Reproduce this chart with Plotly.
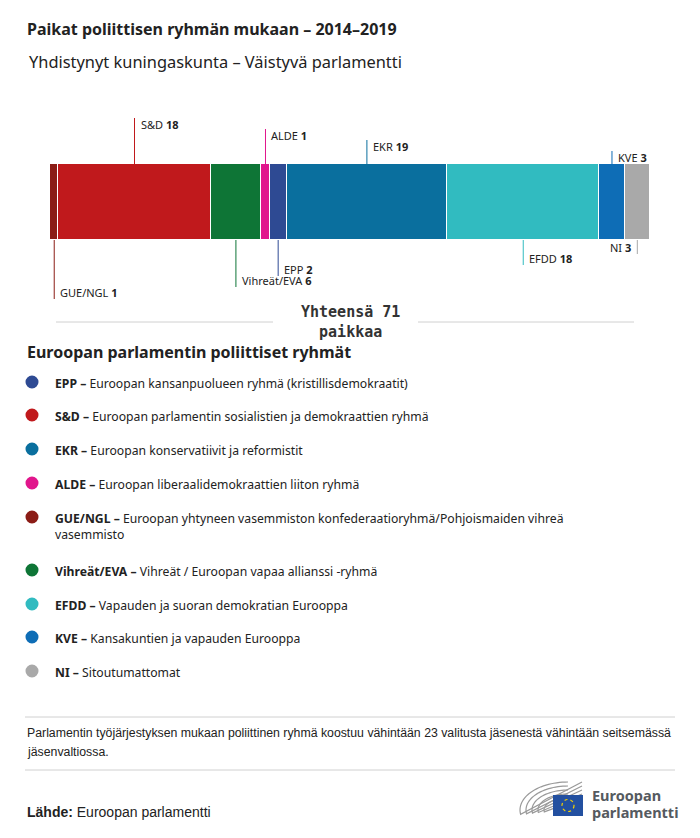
import numpy as np
import plotly.graph_objects as go

# ---------------- data ----------------
groups = ["GUE/NGL", "S&D", "Vihreät/EVA", "ALDE", "EPP", "EKR", "EFDD", "KVE", "NI"]
seats = [1, 18, 6, 1, 2, 19, 18, 3, 3]
colors = ["#8b1c16", "#c0191c", "#0e7536", "#e1168c", "#2e4a93",
          "#0a6f9e", "#31bbc0", "#0e6db6", "#a9a9a9"]
# callout placement (style only)
label_side = ["below", "above", "below", "above", "below", "above", "below", "above", "below_left"]
label_y = [292, 124, 280, 135, 269, 146, 258, 157, 247]

legend_groups = ["EPP", "S&D", "EKR", "ALDE", "GUE/NGL", "Vihreät/EVA", "EFDD", "KVE", "NI"]
legend_desc = [
    "Euroopan kansanpuolueen ryhmä (kristillisdemokraatit)",
    "Euroopan parlamentin sosialistien ja demokraattien ryhmä",
    "Euroopan konservatiivit ja reformistit",
    "Euroopan liberaalidemokraattien liiton ryhmä",
    "Euroopan yhtyneen vasemmiston konfederaatioryhmä/Pohjoismaiden vihreä<br>vasemmisto",
    "Vihreät / Euroopan vapaa allianssi -ryhmä",
    "Vapauden ja suoran demokratian Eurooppa",
    "Kansakuntien ja vapauden Eurooppa",
    "Sitoutumattomat",
]
legend_row_y = [382, 415, 449, 483, 517, 570, 604, 637, 671]

title = "Paikat poliittisen ryhmän mukaan – 2014–2019"
subtitle = "Yhdistynyt kuningaskunta – Väistyvä parlamentti"
legend_title = "Euroopan parlamentin poliittiset ryhmät"
note_lines = ["Parlamentin työjärjestyksen mukaan poliittinen ryhmä koostuu vähintään 23 valitusta "
              "jäsenestä vähintään seitsemässä", "jäsenvaltiossa."]
source = "Euroopan parlamentti"

# ---------------- layout helpers ----------------
VW, VH = 700, 838          # browser window
OFF = 8                    # default page margin of the html body
W, H = VW - OFF, VH - OFF  # figure size
FONT = "Noto Sans"
TXT = "#222222"
BAR_Y, BAR_H = 202, 76


def px(x):
    """window pixel -> paper fraction"""
    return (x - OFF) / W


def esc(s):
    return s.replace("&", "&amp;")


color_of = dict(zip(groups, colors))
total = sum(seats)
cum = np.concatenate([[0], np.cumsum(seats)])
mids = (cum[:-1] + cum[1:]) / 2

fig = go.Figure()

# stacked bar
for g, n, c in zip(groups, seats, colors):
    fig.add_trace(go.Bar(
        x=[n], y=[BAR_Y], width=[BAR_H], orientation="h",
        marker=dict(color=c, line=dict(color="white", width=1.2)),
        name=g, hoverinfo="skip", showlegend=False,
    ))

annotations = []
shapes = []

# callouts
top, bottom = BAR_Y - BAR_H / 2, BAR_Y + BAR_H / 2
for g, n, c, m, side, ly in zip(groups, seats, colors, mids, label_side, label_y):
    if side == "above":
        ys = [top, ly - 6]
        xanchor, xshift = "left", 4
    elif side == "below":
        ys = [bottom, ly + 7]
        xanchor, xshift = "left", 4
    else:
        ys = [bottom, ly + 7]
        xanchor, xshift = "right", -4
    fig.add_trace(go.Scatter(x=[m, m], y=ys, mode="lines",
                             line=dict(color=c, width=1),
                             hoverinfo="skip", showlegend=False))
    annotations.append(dict(
        x=m, y=ly, xref="x", yref="y", xanchor=xanchor, yanchor="middle",
        xshift=xshift, showarrow=False,
        text=f"{esc(g)} <b>{n}</b>",
        font=dict(family=FONT, size=11, color=TXT)))

# titles
annotations.append(dict(x=px(25), y=29, xref="paper", yref="y", xanchor="left", yanchor="middle",
                        showarrow=False, text=f"<b>{title}</b>",
                        font=dict(family=FONT, size=16, color=TXT)))
annotations.append(dict(x=px(27), y=61, xref="paper", yref="y", xanchor="left", yanchor="middle",
                        showarrow=False, text=subtitle,
                        font=dict(family=FONT, size=16.4, color=TXT)))

# total
annotations.append(dict(x=px(350), y=322, xref="paper", yref="y", xanchor="center", yanchor="middle",
                        showarrow=False, align="center",
                        text=f"<b>Yhteensä {total}<br>paikkaa</b>",
                        font=dict(family="DejaVu Sans Mono", size=15, color="#333333")))
for x0, x1 in [(56, 273), (418, 634)]:
    shapes.append(dict(type="line", xref="paper", yref="y", x0=px(x0), x1=px(x1), y0=322, y1=322,
                       line=dict(color="#d0d0d0", width=1)))

# legend
annotations.append(dict(x=px(25), y=352, xref="paper", yref="y", xanchor="left", yanchor="middle",
                        showarrow=False, text=f"<b>{legend_title}</b>",
                        font=dict(family=FONT, size=16, color=TXT)))
for g, d, ry in zip(legend_groups, legend_desc, legend_row_y):
    r = 6.5
    shapes.append(dict(type="circle", xref="paper", yref="y",
                       x0=px(32 - r), x1=px(32 + r), y0=ry - r, y1=ry + r,
                       fillcolor=color_of[g], line=dict(width=0)))
    annotations.append(dict(x=px(53), y=ry - 9, xref="paper", yref="y", xanchor="left", yanchor="top",
                            showarrow=False, align="left",
                            text=f"<b>{esc(g)} –</b> {d}",
                            font=dict(family=FONT, size=12.2, color=TXT)))

# footer
for yy in (717, 770):
    shapes.append(dict(type="line", xref="paper", yref="y", x0=px(25), x1=px(675), y0=yy, y1=yy,
                       line=dict(color="#d0d0d0", width=1)))
for line, yy in zip(note_lines, (733, 752)):
    annotations.append(dict(x=px(25), y=yy, xref="paper", yref="y", xanchor="left", yanchor="middle",
                            showarrow=False, align="left", text=line,
                            font=dict(family="Liberation Sans", size=12.3, color=TXT)))
annotations.append(dict(x=px(25), y=812, xref="paper", yref="y", xanchor="left", yanchor="middle",
                        showarrow=False, text=f"<b>Lähde:</b> {source}",
                        font=dict(family="Liberation Sans", size=14, color=TXT)))

# logo
cx, cy = 568, 810
for k, (rx, ry) in enumerate([(48, 28), (42, 24), (36, 20), (30, 16), (24, 12)]):
    t = np.linspace(np.pi * 0.5, np.pi * 1.05, 30)
    xs = cx + rx * np.cos(t)
    ys = cy - ry * np.sin(t)
    path = "M " + " L ".join(f"{px(a):.5f},{b:.2f}" for a, b in zip(xs, ys))
    path += f" L {px(cx + 14):.5f},{cy - ry:.2f}"
    shapes.append(dict(type="path", xref="paper", yref="y", path=path,
                       line=dict(color="#9a9a9a", width=1.2)))
shapes.append(dict(type="rect", xref="paper", yref="y", x0=px(553), x1=px(583), y0=795, y1=816,
                   fillcolor="#2350a0", line=dict(width=0)))
shapes.append(dict(type="circle", xref="paper", yref="y", x0=px(562), x1=px(574), y0=799.5, y1=811.5,
                   line=dict(color="#f5d000", width=1.2, dash="dot")))
annotations.append(dict(x=px(590), y=795, xref="paper", yref="y", xanchor="left", yanchor="middle",
                        showarrow=False, text="<b>Euroopan</b>",
                        font=dict(family=FONT, size=14.5, color="#555a60")))
annotations.append(dict(x=px(590), y=812, xref="paper", yref="y", xanchor="left", yanchor="middle",
                        showarrow=False, text="<b>parlamentti</b>",
                        font=dict(family=FONT, size=14.5, color="#555a60")))

fig.update_layout(
    width=W, height=H, margin=dict(l=0, r=0, t=0, b=0),
    paper_bgcolor="white", plot_bgcolor="white",
    barmode="stack", bargap=0, showlegend=False,
    xaxis=dict(range=[0, total], domain=[px(50), px(650)], visible=False, fixedrange=True),
    yaxis=dict(range=[VH, OFF], domain=[0, 1], visible=False, fixedrange=True),
    annotations=annotations, shapes=shapes,
)

fig.write_html("out.html")
